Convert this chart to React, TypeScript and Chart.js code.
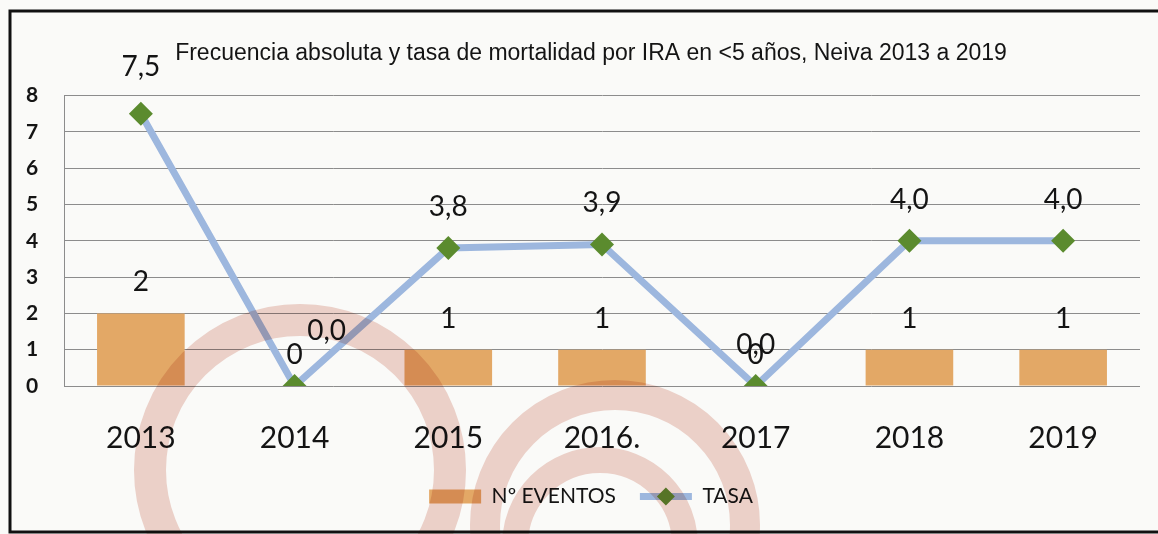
import { useEffect, useRef } from "react";
import { Chart, registerables } from "chart.js";

Chart.register(...registerables);

const categories = ["2013", "2014", "2015", "2016.", "2017", "2018", "2019"];
const eventos = [2, 0, 1, 1, 0, 1, 1];
const tasa = [7.5, 0.0, 3.8, 3.9, 0.0, 4.0, 4.0];
const tasaLabels = ["7,5", "0,0", "3,8", "3,9", "0,0", "4,0", "4,0"];
const yTickValues = [0, 1, 2, 3, 4, 5, 6, 7, 8];
const titleText = "Frecuencia absoluta y tasa de mortalidad por IRA en <5 años, Neiva 2013 a 2019";
const legendNames = ["Nº EVENTOS", "TASA"];

const BAR_COLOR = "#E3A866";
const LINE_COLOR = "#9DB7DE";
const MARKER_COLOR = "#5B8B2E";
const TEXT = "#141414";
const BG = "#fafaf8";
const LABEL_FONT = "28px Lato, 'Noto Sans', sans-serif";

const paperPlugin = {
  id: "paper",
  beforeDraw(chart: any) {
    const ctx = chart.ctx;
    ctx.save();
    ctx.fillStyle = BG;
    ctx.fillRect(0, 0, chart.width, chart.height);
    ctx.strokeStyle = "#111";
    ctx.lineWidth = 3;
    ctx.beginPath();
    ctx.moveTo(chart.width, 11);
    ctx.lineTo(10, 11);
    ctx.lineTo(10, 532);
    ctx.lineTo(chart.width, 532);
    ctx.stroke();
    ctx.restore();
  },
};

const labelPlugin = {
  id: "valueLabels",
  afterDatasetsDraw(chart: any, _args: any, opts: any) {
    const ctx = chart.ctx;
    ctx.save();
    ctx.font = LABEL_FONT;
    ctx.fillStyle = TEXT;
    ctx.textAlign = "center";
    ctx.textBaseline = "middle";
    const barMeta = chart.getDatasetMeta(0);
    barMeta.data.forEach((el: any, i: number) => {
      ctx.fillText(String(eventos[i]), el.x, el.y - opts.barDy);
    });
    const lineMeta = chart.getDatasetMeta(1);
    lineMeta.data.forEach((el: any, i: number) => {
      const dx = (opts.lineDx && opts.lineDx[i]) || 0;
      const dy = (opts.lineDy && opts.lineDy[i]) || opts.lineDyDefault;
      ctx.fillText(tasaLabels[i], el.x + dx, el.y - dy);
    });
    ctx.restore();
  },
};

const legendLinePlugin = {
  id: "legendLine",
  afterDraw(chart: any) {
    const legend = chart.legend;
    if (!legend || !legend.legendHitBoxes || legend.legendHitBoxes.length < 2) return;
    const hb = legend.legendHitBoxes[1];
    const bw = legend.options.labels.boxWidth;
    const cy = hb.top + hb.height / 2;
    const ctx = chart.ctx;
    ctx.save();
    ctx.strokeStyle = LINE_COLOR;
    ctx.lineWidth = 7;
    ctx.beginPath();
    ctx.moveTo(hb.left, cy);
    ctx.lineTo(hb.left + bw, cy);
    ctx.stroke();
    const cx = hb.left + bw / 2;
    const r = 9;
    ctx.fillStyle = MARKER_COLOR;
    ctx.beginPath();
    ctx.moveTo(cx, cy - r);
    ctx.lineTo(cx + r, cy);
    ctx.lineTo(cx, cy + r);
    ctx.lineTo(cx - r, cy);
    ctx.closePath();
    ctx.fill();
    ctx.restore();
  },
};

const watermarkPlugin = {
  id: "watermark",
  afterDraw(chart: any) {
    const ctx = chart.ctx;
    ctx.save();
    ctx.globalCompositeOperation = "multiply";
    ctx.strokeStyle = "#F0D4CE";
    const arcs = [
      [300, 470, 150, 32],
      [615, 525, 130, 30],
      [600, 545, 85, 26],
    ];
    arcs.forEach(([x, y, r, w]) => {
      ctx.lineWidth = w;
      ctx.beginPath();
      ctx.arc(x, y, r, 0, Math.PI * 2);
      ctx.stroke();
    });
    ctx.restore();
  },
};

export default function App() {
  const canvasRef = useRef<HTMLCanvasElement | null>(null);

  useEffect(() => {
    document.body.style.margin = "0";
    document.body.style.background = BG;
    const canvas = canvasRef.current;
    if (!canvas) return;
    const chart = new Chart(canvas, {
      type: "bar",
      data: {
        labels: categories,
        datasets: [
          {
            type: "bar",
            label: legendNames[0],
            data: eventos,
            backgroundColor: BAR_COLOR,
            borderWidth: 0,
            barPercentage: 0.57,
            categoryPercentage: 1,
            order: 2,
          },
          {
            type: "line",
            label: legendNames[1],
            data: tasa,
            borderColor: LINE_COLOR,
            borderWidth: 7,
            backgroundColor: MARKER_COLOR,
            pointStyle: "rectRot",
            pointRadius: 12,
            pointBorderWidth: 0,
            pointBackgroundColor: MARKER_COLOR,
            tension: 0,
            fill: false,
            order: 1,
          } as any,
        ],
      },
      options: {
        animation: false,
        responsive: true,
        maintainAspectRatio: false,
        layout: { padding: { left: 42, right: 18, top: 0, bottom: 17 } },
        plugins: {
          title: {
            display: true,
            text: titleText,
            color: TEXT,
            font: { family: "'Liberation Sans Narrow', 'Arial Narrow', 'Liberation Sans', Arial", size: 23, weight: "normal" },
            padding: { top: 40, bottom: 28 },
          },
          legend: {
            display: true,
            position: "bottom",
            labels: {
              boxWidth: 52,
              boxHeight: 14,
              padding: 24,
              color: TEXT,
              font: { family: "Lato, 'Noto Sans', sans-serif", size: 21 },
              generateLabels: () => [
                { text: legendNames[0], fillStyle: BAR_COLOR, strokeStyle: BAR_COLOR, lineWidth: 0, datasetIndex: 0, hidden: false, fontColor: TEXT },
                { text: legendNames[1], fillStyle: "rgba(0,0,0,0)", strokeStyle: "rgba(0,0,0,0)", lineWidth: 0, datasetIndex: 1, hidden: false, fontColor: TEXT },
              ],
            },
          },
          tooltip: { enabled: false },
          valueLabels: { barDy: 31, lineDyDefault: 41, lineDx: [0, 32, 0, 0, 0, 0, 0], lineDy: [47, 55, 0, 0, 0, 0, 0] },
        } as any,
        scales: {
          x: {
            grid: { display: false, drawTicks: false },
            border: { display: false },
            ticks: {
              color: TEXT,
              font: { family: "Lato, 'Noto Sans', sans-serif", size: 30 },
              padding: 34,
              maxRotation: 0,
            },
            afterFit(axis: any) {
              axis.height = 76;
            },
          },
          y: {
            min: 0,
            max: 8,
            afterBuildTicks(axis: any) {
              axis.ticks = yTickValues.map((v) => ({ value: v }));
            },
            grid: { color: "#8c8c8c", lineWidth: 1, drawTicks: false },
            border: { display: true, color: "#8c8c8c", width: 1 },
            ticks: {
              color: TEXT,
              font: { family: "Lato, 'Noto Sans', sans-serif", size: 21, weight: "bold" },
              mirror: true,
              crossAlign: "near",
              padding: -38,
            },
            afterFit(axis: any) {
              axis.width = 22;
            },
          },
        },
      },
      plugins: [paperPlugin, labelPlugin, legendLinePlugin, watermarkPlugin],
    });
    return () => chart.destroy();
  }, []);

  return (
    <div style={{ position: "relative", width: 1158, height: 534 }}>
      <canvas ref={canvasRef} />
    </div>
  );
}
